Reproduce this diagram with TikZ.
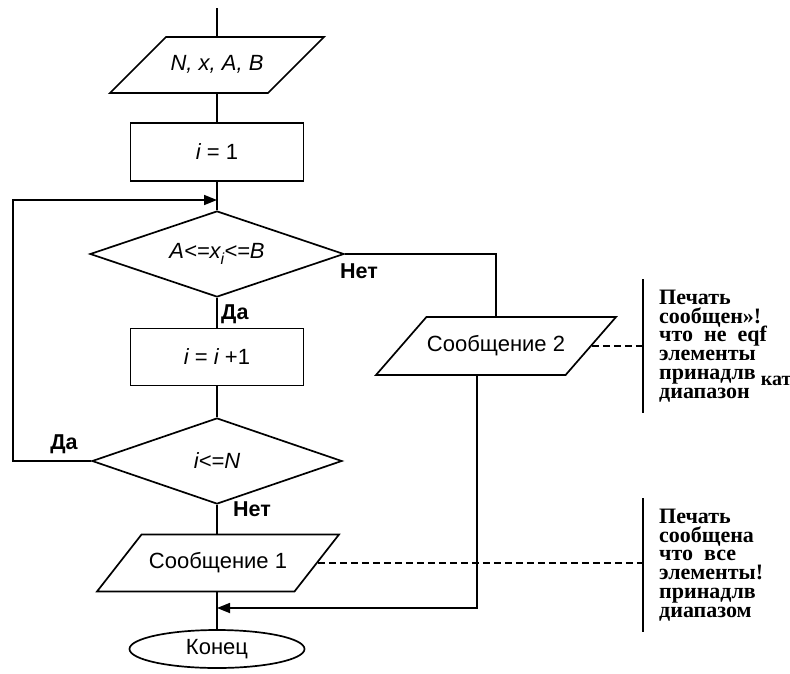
\documentclass[tikz,border=0pt]{standalone}
\usepackage{fontspec}
\setmainfont{Liberation Sans}
\newfontfamily\notefont{Liberation Serif}
\usetikzlibrary{shapes.geometric,arrows.meta}
\newcommand\tightlines{\lineskiplimit=-30pt\relax}
\begin{document}
\begin{tikzpicture}[x=1pt,y=-1pt,
  every node/.style={font=\fontsize{22}{26}\selectfont},
  flow/.style={line width=1.7pt},
  proc/.style={draw, line width=1.7pt, rectangle, minimum width=173pt, minimum height=58pt, inner sep=0pt},
  cond/.style={draw, line width=1.7pt, diamond, aspect=3, inner sep=0pt},
  io/.style={draw, line width=1.7pt, trapezium, trapezium stretches body, inner xsep=0pt,
    text height=16pt, text depth=5pt},
  term/.style={draw, line width=1.7pt, ellipse, minimum width=175pt, minimum height=38pt, inner sep=0pt},
  lbl/.style={inner sep=0pt, font=\bfseries\fontsize{21.5}{24}\selectfont},
  note/.style={inner xsep=16pt, inner ysep=0pt, anchor=west, align=left, minimum height=133pt,
    font={\notefont\bfseries\fontsize{22}{18.8}\selectfont\tightlines}},
  arr/.style={flow, -{Triangle[length=13pt,width=10pt]}},
  leader/.style={line width=1.3pt, dash pattern=on 7pt off 4pt},
  brace/.style={line width=1.6pt}
]
\useasboundingbox (0,0) rectangle (790,673);

% main column
\coordinate (top) at (217,8);
\node[io, trapezium left angle=45, trapezium right angle=135,
      inner ysep=17.5pt, minimum width=214pt] (inp) at (217,65) {\itshape N, x, A, B};
\node[proc] (init) at (217,152) {\itshape i\upshape{} = 1};
\node[cond, minimum width=254pt, minimum height=86pt] (range) at (217,254)
  {\itshape A<=x\raisebox{-6pt}{\fontsize{16}{16}\selectfont i}<=B};
\node[proc, minimum height=57pt] (inc) at (217,357) {\itshape i\upshape{} = \itshape i\upshape{} +1};
\node[cond, minimum width=250pt, minimum height=86pt] (more) at (217,461) {\itshape i<=N};
\node[io, trapezium left angle=52, trapezium right angle=128,
      inner ysep=18pt, minimum width=242pt] (msg1) at (218,563) {Сообщение 1};
\node[term] (stop) at (217,649) {Конец};
\coordinate (loopin) at (217,200);
\coordinate (join) at (217,608);

% side branch
\node[io, trapezium left angle=49, trapezium right angle=131,
      inner ysep=18.5pt, minimum width=240pt] (msg2) at (496,346) {Сообщение 2};

% branch labels
\node[lbl, anchor=west] (no1) at (340,271) {Нет};
\node[lbl, anchor=west] (yes1) at (221,314) {Да};
\node[lbl] (yes2) at (64,444) {Да};
\node[lbl, anchor=west] (no2) at (233,509) {Нет};

% comments
\node[note] (note1) at (643,346) {Печать\\сообщен»!\\что~~не~~eqf\\элементы\\принадлв\kern5pt\smash{\raisebox{-6pt}{\fontsize{20}{20}\selectfont кат}}\\диапазон};
\node[note] (note2) at (643,565) {Печать\\сообщена\\что~~все\\элементы!\\принадлв\\диапазом};
\draw[brace] (note1.north west) -- (note1.south west);
\draw[brace] (note2.north west) -- (note2.south west);

% connectors
\draw[flow] (top) -- (inp.north);
\draw[flow] (inp.south) -- (init.north);
\draw[flow] (init.south) -- (range.north);
\draw[flow] (range.south) -- (inc.north);
\draw[flow] (inc.south) -- (more.north);
\draw[flow] (more.south) -- (more.south |- msg1.north);
\draw[flow] (msg1.south -| stop.north) -- (stop.north);
\draw[arr] (more.west) -- (13,461) |- (loopin);
\draw[flow] (range.east) -| (msg2.north);
\draw[arr] ([xshift=-19pt]msg2.south) |- (join);
\draw[leader] (msg2.east) -- (msg2.east -| note1.west);
\draw[leader] (msg1.east) -- (msg1.east -| note2.west);
\end{tikzpicture}
\end{document}
